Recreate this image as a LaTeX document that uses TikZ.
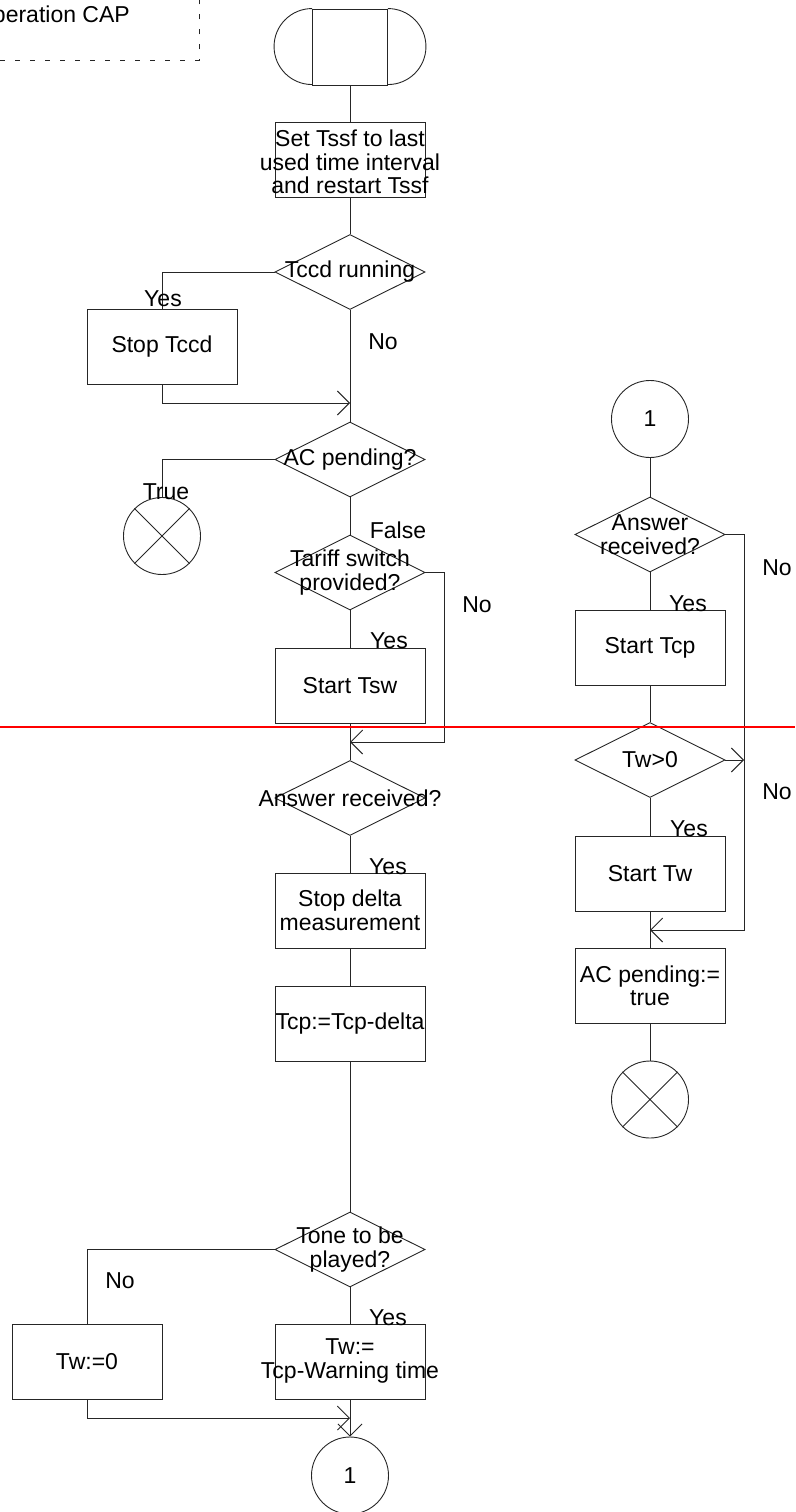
\documentclass[tikz,border=0pt]{standalone}
\usepackage{fontspec}
\setmainfont{Liberation Sans}
\usetikzlibrary{shapes.geometric,arrows.meta}
\begin{document}
\begin{tikzpicture}[x=1pt,y=-1pt,
  every node/.style={font=\fontsize{23}{23.5}\selectfont},
  ln/.style={draw=black!85,line width=0.9pt},
  box/.style={draw=black!85,line width=0.9pt,rectangle,minimum width=150pt,minimum height=75pt,inner sep=0pt,align=center},
  dec/.style={draw=black!85,line width=0.9pt,diamond,minimum width=150pt,minimum height=75pt,inner sep=0pt},
  dtext/.style={align=center,inner sep=0pt},
  conn/.style={draw=black!85,line width=0.9pt,circle,minimum size=77pt,inner sep=0pt},
  lab/.style={inner sep=0pt},
  arr/.style={-{Straight Barb[length=12pt,width=24pt]}},
]
\clip (0,0) rectangle (795,1512);

% comment box
\draw[ln,dash pattern=on 5pt off 10pt] (0,60.5) -- (199,60.5) -- (199,-5);
\node[lab,anchor=base east] (cmt) at (130,23) {operation CAP};

% left column
\node[draw=black!85,line width=0.9pt,rectangle,minimum width=75pt,minimum height=76pt,inner sep=0pt] (start) at (350,47) {};
\draw[ln] (start.north west) arc[start angle=90,end angle=270,radius=38pt];
\draw[ln] (start.north east) arc[start angle=90,end angle=-90,radius=38pt];

\node[box] (b1) at (350,159.5) {};
\node[dtext] (b1t) at (350,162) {Set Tssf to last\\used time interval\\and restart Tssf};
\node[dec] (d1) at (350,272) {};
\node[dtext] (d1t) at (350,272) {Tccd running};
\node[box] (b2) at (162,347) {Stop Tccd};
\coordinate (j1) at (350,403);
\node[dec] (d2) at (350,459.5) {};
\node[dtext] (d2t) at (350,459.5) {AC pending?};
\node[conn] (x1) at (162,536) {};
\node[dec] (d3) at (350,572.5) {};
\node[dtext] (d3t) at (350,572.5) {Tariff switch\\provided?};
\node[box] (b3) at (350,685.5) {Start Tsw};
\coordinate (r1) at (444,742);
\coordinate (j2) at (350,742);
\node[dec] (d4) at (350,798) {};
\node[dtext] (d4t) at (350,798) {Answer received?};
\node[box] (b4) at (350,910.5) {Stop delta\\measurement};
\node[box] (b5) at (350,1024) {};
\node[dtext] (b5t) at (350,1024) {Tcp:=Tcp-delta};
\node[dec] (d5) at (350,1249.5) {};
\node[dtext] (d5t) at (350,1249.5) {Tone to be\\played?};
\node[box] (b6) at (87,1362) {Tw:=0};
\node[box] (b7) at (350,1362) {};
\node[dtext] (b7t) at (350,1361) {Tw:=\\Tcp-Warning time};
\coordinate (j3) at (350,1418);
\node[conn] (c1) at (350,1475.5) {1};

% right column
\node[conn] (c2) at (650,419) {1};
\node[dec] (d6) at (650,534.5) {};
\node[dtext] (d6t) at (650,534.5) {Answer\\received?};
\node[box] (b8) at (650,647.5) {Start Tcp};
\node[dec] (d7) at (650,760) {};
\node[dtext] (d7t) at (650,760) {Tw>0};
\node[box] (b9) at (650,874) {Start Tw};
\coordinate (r2) at (744,930);
\coordinate (j4) at (650,930);
\coordinate (r3) at (744,760);
\node[box] (b10) at (650,986) {AC pending:=\\true};
\node[conn] (x2) at (650,1099.5) {};

% X marks
\draw[ln] (x1.north west) -- (x1.south east) (x1.north east) -- (x1.south west);
\draw[ln] (x2.north west) -- (x2.south east) (x2.north east) -- (x2.south west);

% connectors left
\draw[ln] (start.south) -- (b1.north);
\draw[ln] (b1.south) -- (d1.north);
\draw[ln] (d1.west) -| (b2.north);
\draw[ln] (d1.south) -- (d2.north);
\draw[ln,arr] (b2.south) |- (j1);
\draw[ln] (d2.west) -| (x1.north);
\draw[ln] (d2.south) -- (d3.north);
\draw[ln] (d3.south) -- (b3.north);
\draw[ln,arr] (d3.east) -| (r1) -- (j2);
\draw[ln] (b3.south) -- (d4.north);
\draw[ln] (d4.south) -- (b4.north);
\draw[ln] (b4.south) -- (b5.north);
\draw[ln] (b5.south) -- (d5.north);
\draw[ln] (d5.west) -| (b6.north);
\draw[ln] (d5.south) -- (b7.north);
\draw[ln,arr] (b6.south) |- (j3);
\draw[ln,arr] (b7.south) -- (c1.north);

% connectors right
\draw[ln] (c2.south) -- (d6.north);
\draw[ln] (d6.south) -- (b8.north);
\draw[ln] (b8.south) -- (d7.north);
\draw[ln] (d7.south) -- (b9.north);
\draw[ln] (b9.south) -- (b10.north);
\draw[ln] (b10.south) -- (x2.north);
\draw[ln,arr] (d6.east) -| (r2) -- (j4);
\draw[ln,arr] (d7.east) -- (r3);

% labels
\node[lab] (l1) at (163,299) {Yes};
\node[lab] (l2) at (383,342) {No};
\node[lab] (l3) at (166,492) {True};
\node[lab] (l4) at (398,530) {False};
\node[lab] (l5) at (477,605) {No};
\node[lab] (l6) at (389,641) {Yes};
\node[lab] (l7) at (388,867) {Yes};
\node[lab] (l8) at (120,1281) {No};
\node[lab] (l9) at (388,1318) {Yes};
\node[lab] (l10) at (688,604) {Yes};
\node[lab] (l11) at (777,568) {No};
\node[lab] (l12) at (777,792) {No};
\node[lab] (l13) at (689,829) {Yes};

% red line
\draw[red,line width=2pt] (0,727) -- (795,727);
\end{tikzpicture}
\end{document}
